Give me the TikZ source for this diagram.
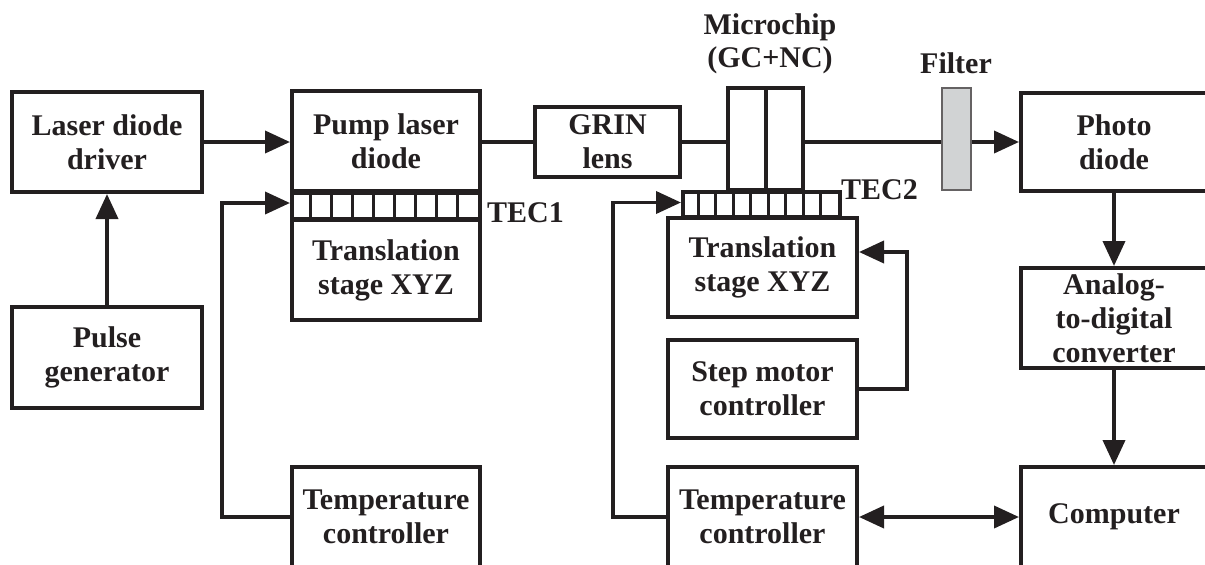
\documentclass[tikz,border=0pt]{standalone}
\usepackage{fontspec}
\setmainfont{Liberation Serif}
\usetikzlibrary{arrows.meta,calc}
\definecolor{ink}{HTML}{231F20}
\definecolor{filtergray}{HTML}{D1D3D4}
\begin{document}
\begin{tikzpicture}[x=1pt,y=-1pt,
  box/.style={draw=ink, line width=4pt, inner sep=0pt, align=center, text=ink,
    font=\fontsize{30}{34}\selectfont\bfseries},
  lbl/.style={inner sep=0pt, text=ink, font=\fontsize{30}{34}\selectfont\bfseries},
  wire/.style={draw=ink, line width=3.8pt},
  arr/.style={wire, -{Triangle[length=25pt,width=22pt]}},
  darr/.style={wire, {Triangle[length=25pt,width=22pt]}-{Triangle[length=25pt,width=22pt]}},
  strip/.style={draw=ink, line width=4pt, inner sep=0pt},
  cellline/.style={draw=ink, line width=3pt}]
\useasboundingbox (0,0) rectangle (1205,565);
\clip (0,0) rectangle (1205,565);

% boxes
\node[box, minimum width=190pt, minimum height=100pt] (drv) at (107,142) {Laser diode\\driver};
\node[box, minimum width=190pt, minimum height=101pt] (pulse) at (107,357.5) {Pulse\\generator};
\node[box, minimum width=188pt, minimum height=100pt] (pump) at (386,141) {Pump laser\\diode};
\node[box, minimum width=188pt, minimum height=100pt] (ts1) at (386,270) {Translation\\stage XYZ};
\node[box, minimum width=188pt, minimum height=100pt] (tc1) at (386,517) {Temperature\\controller};
\node[box, minimum width=145pt, minimum height=70pt] (grin) at (607.5,142) {GRIN\\lens};
\node[box, minimum width=189pt, minimum height=99pt] (ts2) at (762.5,267.5) {Translation\\stage XYZ};
\node[box, minimum width=189pt, minimum height=98pt] (smc) at (762.5,389) {Step motor\\controller};
\node[box, minimum width=189pt, minimum height=100pt] (tc2) at (762.5,517) {Temperature\\controller};
\node[box, minimum width=186pt, minimum height=98pt] (pd) at (1114,142) {Photo\\diode};
\node[box, minimum width=186pt, minimum height=100pt] (adc) at (1114,318) {Analog-\\to-digital\\converter};
\node[box, minimum width=186pt, minimum height=100pt] (comp) at (1114,517) {Computer};

% microchip
\node[strip, minimum width=75pt, minimum height=102pt] (chip) at (765.5,139) {};
\draw[ink, line width=4pt] (chip.north) -- (chip.south);

% filter
\node[draw=ink!70, fill=filtergray, line width=1.5pt, inner sep=0pt,
      minimum width=29pt, minimum height=102pt] (filt) at (956.5,139) {};

% TEC strips
\node[strip, minimum width=188pt, minimum height=26pt] (tec1) at (386,206) {};
\foreach \i in {1,...,8}
  \draw[cellline] ($(tec1.north west)+({\i*188/9},0)$) -- ($(tec1.south west)+({\i*188/9},0)$);
\node[strip, minimum width=157pt, minimum height=25pt] (tec2) at (761.5,204.5) {};
\foreach \i in {1,...,8}
  \draw[cellline] ($(tec2.north west)+({\i*157/9},0)$) -- ($(tec2.south west)+({\i*157/9},0)$);

% labels
\node[lbl, anchor=base west] (tec1lbl) at (487,222) {TEC1};
\node[lbl, anchor=base west] (tec2lbl) at (841,199) {TEC2};
\node[lbl, anchor=base] (chiplbla) at (770,34) {Microchip};
\node[lbl, anchor=base] (chiplblb) at (770,67) {(GC+NC)};
\node[lbl, anchor=base] (filtlbl) at (956,73) {Filter};

% connectors
\draw[arr] (drv.east) -- (drv.east -| pump.west);
\draw[arr] (pulse.north) -- (drv.south);
\draw[wire] (pump.east |- grin.west) -- (grin.west);
\draw[wire] (grin.east) -- (grin.east -| chip.west);
\draw[wire] (chip.east |- pd.west) -- (filt.west |- pd.west);
\draw[arr] (filt.east |- pd.west) -- (pd.west);
\draw[arr] (pd.south) -- (adc.north);
\draw[arr] (adc.south) -- (comp.north);
\draw[darr] (tc2.east) -- (comp.west);
\draw[arr] (tc1.west) -- ++(-68,0) |- ($(tec1.west)+(0,-3)$);
\draw[arr] (tc2.west) -- ++(-53,0) |- ($(tec2.west)+(0,-2)$);
\draw[arr] (smc.east) -- ++(48,0) |- ($(ts2.east)+(0,-15.5)$);
\end{tikzpicture}
\end{document}
